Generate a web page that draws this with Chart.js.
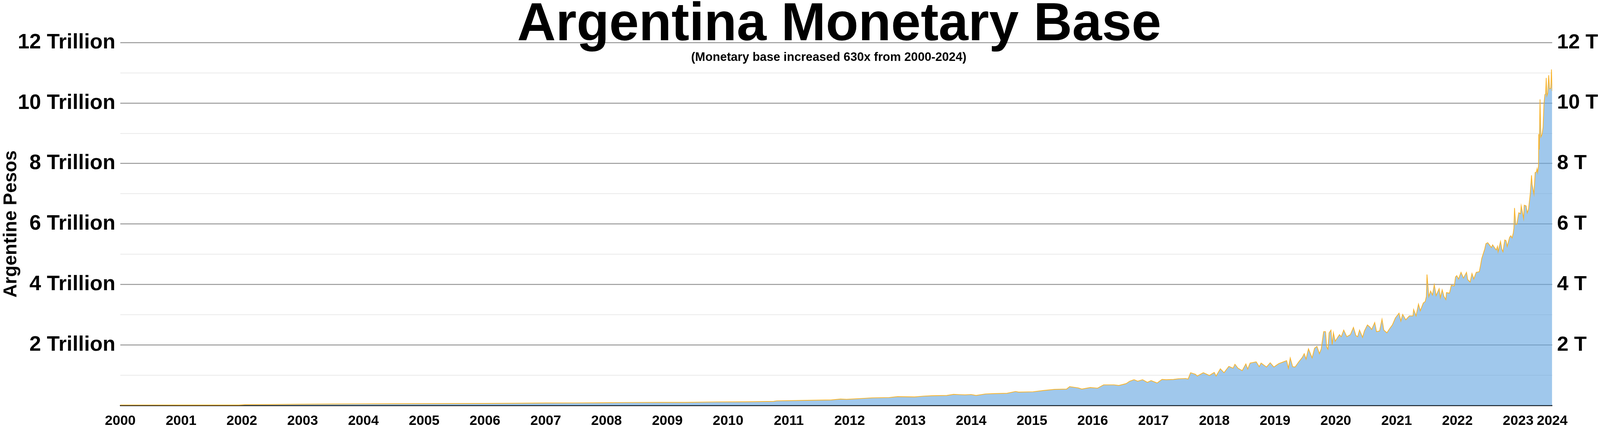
<!DOCTYPE html>
<html>
<head>
<meta charset="utf-8">
<title>Argentina Monetary Base</title>
<script src="https://cdn.jsdelivr.net/npm/chart.js@4/dist/chart.umd.min.js"></script>
<style>
  html, body { margin: 0; padding: 0; background: #fff; overflow: hidden; }
  #wrap { position: relative; width: 100vw; height: 100vh; }
</style>
</head>
<body>
<div id="wrap"><canvas id="baseChart"></canvas></div>
<script>
const TITLE = 'Argentina Monetary Base';
const SUBTITLE = '(Monetary base increased 630x from 2000-2024)';
const Y_TITLE = 'Argentine Pesos';

// position on the time axis, in years
const years = [
  2000.00, 2000.50, 2001.00, 2001.50, 2001.95, 2002.05, 2002.50, 2003.00, 2003.50, 2003.94,
  2004.50, 2005.00, 2005.50, 2005.98, 2006.50, 2007.00, 2007.50, 2007.90, 2008.30, 2008.90,
  2009.30, 2009.80, 2010.30, 2010.75, 2010.80, 2011.30, 2011.70, 2011.85, 2011.95, 2012.27,
  2012.37, 2012.65, 2012.79, 2013.07, 2013.21, 2013.35, 2013.60, 2013.71, 2013.80, 2013.90,
  2014.00, 2014.08, 2014.24, 2014.39, 2014.59, 2014.73, 2014.78, 2015.02, 2015.18, 2015.37,
  2015.57, 2015.62, 2015.76, 2015.82, 2015.96, 2016.08, 2016.18, 2016.35, 2016.43, 2016.55,
  2016.61, 2016.68, 2016.74, 2016.82, 2016.90, 2016.96, 2017.06, 2017.14, 2017.21, 2017.33,
  2017.41, 2017.53, 2017.57, 2017.61, 2017.69, 2017.72, 2017.82, 2017.92, 2018.00, 2018.03,
  2018.10, 2018.16, 2018.24, 2018.31, 2018.34, 2018.39, 2018.46, 2018.52, 2018.55, 2018.59,
  2018.69, 2018.74, 2018.77, 2018.86, 2018.92, 2018.98, 2019.06, 2019.14, 2019.19, 2019.22,
  2019.25, 2019.29, 2019.33, 2019.39, 2019.45, 2019.48, 2019.51, 2019.55, 2019.61, 2019.65,
  2019.69, 2019.73, 2019.76, 2019.80, 2019.83, 2019.85, 2019.87, 2019.89, 2019.92, 2019.94,
  2019.96, 2019.99, 2020.06, 2020.09, 2020.13, 2020.18, 2020.24, 2020.29, 2020.33, 2020.36,
  2020.39, 2020.44, 2020.47, 2020.52, 2020.56, 2020.59, 2020.64, 2020.67, 2020.72, 2020.76,
  2020.79, 2020.84, 2020.89, 2020.93, 2020.98, 2021.04, 2021.07, 2021.10, 2021.15, 2021.21,
  2021.27, 2021.28, 2021.32, 2021.36, 2021.39, 2021.44, 2021.47, 2021.49, 2021.50, 2021.53,
  2021.56, 2021.59, 2021.62, 2021.65, 2021.70, 2021.72, 2021.75, 2021.78, 2021.81, 2021.82,
  2021.87, 2021.90, 2021.95, 2021.97, 2021.99, 2022.02, 2022.06, 2022.10, 2022.15, 2022.17,
  2022.21, 2022.24, 2022.27, 2022.31, 2022.36, 2022.38, 2022.40, 2022.42, 2022.45, 2022.47,
  2022.50, 2022.53, 2022.56, 2022.58, 2022.62, 2022.64, 2022.66, 2022.67, 2022.71, 2022.73,
  2022.75, 2022.78, 2022.80, 2022.82, 2022.86, 2022.88, 2022.90, 2022.92, 2022.93, 2022.94,
  2022.96, 2022.98, 2023.01, 2023.04, 2023.05, 2023.09, 2023.10, 2023.13, 2023.15, 2023.17,
  2023.20, 2023.22, 2023.23, 2023.26, 2023.28, 2023.30, 2023.31, 2023.32, 2023.335, 2023.339,
  2023.347, 2023.36, 2023.374, 2023.394, 2023.41, 2023.425, 2023.44, 2023.452, 2023.462, 2023.472,
  2023.487, 2023.503, 2023.517, 2023.538, 2023.548, 2023.56
];

// monetary base, trillions of pesos
const baseTrillions = [
  0.015, 0.014, 0.013, 0.012, 0.012, 0.025, 0.030, 0.038, 0.045, 0.050,
  0.055, 0.058, 0.062, 0.065, 0.072, 0.080, 0.082, 0.088, 0.095, 0.100,
  0.100, 0.115, 0.120, 0.133, 0.150, 0.168, 0.180, 0.210, 0.200, 0.237,
  0.250, 0.260, 0.290, 0.280, 0.305, 0.320, 0.330, 0.365, 0.357, 0.350,
  0.360, 0.330, 0.380, 0.390, 0.400, 0.460, 0.440, 0.450, 0.490, 0.530,
  0.540, 0.620, 0.580, 0.540, 0.590, 0.570, 0.680, 0.680, 0.660, 0.720,
  0.800, 0.850, 0.800, 0.850, 0.760, 0.820, 0.740, 0.860, 0.850, 0.860,
  0.880, 0.890, 0.870, 1.080, 1.030, 0.970, 1.080, 0.990, 1.090, 0.970,
  1.210, 1.080, 1.290, 1.230, 1.360, 1.230, 1.150, 1.370, 1.200, 1.400,
  1.440, 1.280, 1.400, 1.270, 1.410, 1.270, 1.380, 1.440, 1.480, 1.230,
  1.570, 1.280, 1.270, 1.440, 1.590, 1.710, 1.530, 1.870, 1.570, 1.890,
  1.950, 1.710, 1.870, 2.440, 2.440, 1.930, 1.860, 2.400, 2.490, 2.010,
  2.400, 2.120, 2.340, 2.270, 2.490, 2.270, 2.340, 2.580, 2.310, 2.270,
  2.490, 2.250, 2.460, 2.660, 2.590, 2.510, 2.740, 2.440, 2.460, 2.850,
  2.490, 2.400, 2.550, 2.660, 2.890, 3.050, 2.790, 3.010, 2.830, 2.960,
  2.960, 3.170, 2.960, 3.350, 3.130, 3.390, 3.430, 3.600, 4.330, 3.600,
  3.780, 3.650, 3.990, 3.630, 3.860, 3.560, 3.820, 3.600, 3.500, 3.730,
  3.710, 3.970, 3.950, 4.250, 4.290, 4.180, 4.400, 4.210, 4.400, 4.160,
  4.080, 4.360, 4.180, 4.400, 4.420, 4.620, 4.850, 4.980, 5.170, 5.350,
  5.380, 5.300, 5.220, 5.310, 5.190, 5.140, 5.260, 5.080, 5.420, 5.170,
  5.080, 5.470, 5.450, 5.260, 5.560, 5.610, 5.540, 5.700, 5.860, 6.530,
  5.980, 6.000, 6.370, 6.340, 6.600, 6.180, 6.620, 6.600, 6.370, 6.480,
  7.010, 7.610, 7.310, 6.990, 7.700, 7.720, 7.820, 7.700, 7.910, 8.970,
  8.460, 10.120, 8.880, 8.970, 9.200, 9.980, 10.280, 10.300, 10.830, 10.240,
  10.330, 10.920, 10.470, 10.490, 11.110, 10.400
];

// year labels on the x axis; the last one sits at the end of the data
const yearTicks = [2000, 2001, 2002, 2003, 2004, 2005, 2006, 2007, 2008, 2009, 2010, 2011,
  2012, 2013, 2014, 2015, 2016, 2017, 2018, 2019, 2020, 2021, 2022, 2023];
const endTick = { value: 2023.56, label: '2024' };
const yMax = 12;

const FONT = '"Liberation Sans", Arial, Helvetica, sans-serif';

// sizes were measured on a 4283x1101 picture; scale to whatever the window really is
const kx = window.innerWidth / 4283;
const ky = window.innerHeight / 1101;
const k = Math.min(kx, ky);

const titles = {
  id: 'titles',
  afterDraw(chart) {
    const { ctx, chartArea } = chart;
    const cx = (chartArea.left + chartArea.right) / 2;
    ctx.save();
    ctx.fillStyle = '#000';
    ctx.textAlign = 'center';
    ctx.textBaseline = 'alphabetic';
    ctx.font = 'bold ' + (143 * k) + 'px ' + FONT;
    ctx.fillText(TITLE, cx + 8 * kx, chartArea.top - 6 * ky);
    ctx.font = 'bold ' + (32.5 * k) + 'px ' + FONT;
    ctx.fillText(SUBTITLE, cx - 20 * kx, chartArea.top + 47 * ky);
    ctx.restore();
  }
};

const points = years.map((x, i) => ({ x, y: baseTrillions[i] }));

new Chart(document.getElementById('baseChart'), {
  type: 'line',
  data: {
    datasets: [{
      label: 'Monetary Base',
      data: points,
      borderColor: '#f8b32b',
      borderWidth: 2 * k,
      backgroundColor: 'rgba(102,166,224,0.62)',
      fill: 'origin',
      pointRadius: 0,
      tension: 0
    }]
  },
  options: {
    responsive: true,
    maintainAspectRatio: false,
    devicePixelRatio: 1,
    animation: false,
    layout: { padding: { top: 109 * ky, left: 0, right: 0, bottom: 0 } },
    plugins: { legend: { display: false }, tooltip: { enabled: false }, title: { display: false } },
    scales: {
      x: {
        type: 'linear',
        min: 2000,
        max: endTick.value,
        grid: { display: false, drawTicks: false },
        border: { display: true, color: '#111', width: 3 * k },
        afterBuildTicks: s => { s.ticks = yearTicks.map(v => ({ value: v })).concat([{ value: endTick.value }]); },
        afterFit: s => { s.height = 63 * ky; },
        ticks: {
          autoSkip: false,
          maxRotation: 0,
          padding: 19 * ky,
          color: '#000',
          font: { family: FONT, size: 37 * k, weight: 'bold' },
          callback: v => (v === endTick.value ? endTick.label : String(v))
        }
      },
      y: {
        position: 'left',
        min: 0,
        max: yMax,
        border: { display: false },
        grid: {
          drawTicks: false,
          color: c => (c.tick.value === 0 ? 'rgba(0,0,0,0)' : (c.tick.value % 2 === 0 ? '#999999' : '#e3e3e3')),
          lineWidth: c => (c.tick.value % 2 === 0 ? 2.5 : 1.5) * k
        },
        afterFit: s => { s.width = 322 * kx; },
        ticks: {
          stepSize: 1,
          padding: 13 * kx,
          color: '#000',
          font: { family: FONT, size: 56 * k, weight: 'bold' },
          callback: v => (v > 0 && v % 2 === 0 ? v + ' Trillion' : '')
        },
        title: {
          display: true,
          text: Y_TITLE,
          color: '#000',
          padding: 0,
          font: { family: FONT, size: 50 * k, weight: 'bold' }
        }
      },
      yRight: {
        type: 'linear',
        position: 'right',
        min: 0,
        max: yMax,
        border: { display: false },
        grid: { display: false, drawTicks: false },
        afterFit: s => { s.width = 128 * kx; },
        ticks: {
          stepSize: 1,
          padding: 13 * kx,
          color: '#000',
          font: { family: FONT, size: 55 * k, weight: 'bold' },
          callback: v => (v > 0 && v % 2 === 0 ? v + ' T' : '')
        }
      }
    }
  },
  plugins: [titles]
});
</script>
</body>
</html>
